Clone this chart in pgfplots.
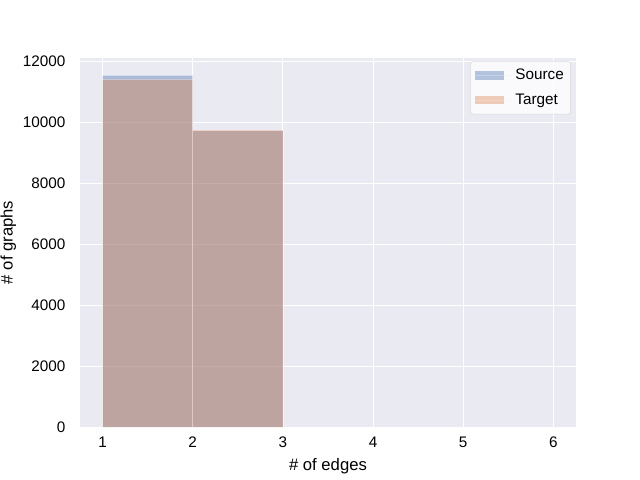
\documentclass[border=0pt]{standalone}
\usepackage{pgfplots}
\pgfplotsset{compat=1.18}
\usepackage{fontspec}
\setmainfont{Liberation Sans}
\definecolor{bgc}{RGB}{234,234,242}
\definecolor{sblue}{RGB}{76,114,176}
\definecolor{sorange}{RGB}{221,132,82}
\begin{document}
\begin{tikzpicture}[x=1pt,y=1pt]
\path[use as bounding box] (0,0) rectangle (460.8,345.6);
\begin{axis}[
  at={(57.6pt,38.0pt)}, anchor=south west,
  scale only axis, width=357.1pt, height=266.1pt,
  xmin=0.75, xmax=6.25, ymin=0, ymax=12118,
  axis background/.style={fill=bgc},
  axis line style={draw=none},
  major tick length=0pt,
  grid=major, grid style={white, line width=0.8pt},
  xtick={1,2,3,4,5,6}, ytick={0,2000,4000,6000,8000,10000,12000},
  /pgf/number format/assume math mode=true,
  /pgf/number format/set thousands separator={},
  scaled y ticks=false,
  tick label style={font=\fontsize{11}{13}\selectfont},
  xticklabel style={yshift=-3.5pt},
  yticklabel style={xshift=-7pt},
  label style={font=\fontsize{12}{14}\selectfont},
  xlabel={\# of edges}, ylabel={\# of graphs},
  xlabel style={yshift=-1pt},
  ylabel style={yshift=-2pt},
  legend style={at={(0.99,0.99)}, anchor=north east, draw=black!15, rounded corners=2pt, fill=white, fill opacity=0.8, text opacity=1, font=\fontsize{11}{13}\selectfont, row sep=4.5pt, inner xsep=3pt, inner ysep=3.5pt},
  legend cell align=left,
  legend image code/.code={\path[#1, draw=none, rounded corners=0pt, fill opacity=0.4] (0pt,-3pt) rectangle (21pt,3pt); \path (0pt,0pt) -- (27pt,0pt);},
]
\addplot[ybar interval, fill=sblue, fill opacity=0.4, draw=white, draw opacity=0.3, line width=0.4pt] coordinates {(1,11540) (2,9720) (3,0)};
\addlegendentry{Source}
\addplot[ybar interval, fill=sorange, fill opacity=0.4, draw=white, draw opacity=0.3, line width=0.4pt] coordinates {(1,11400) (2,9745) (3,0)};
\addlegendentry{Target}
\end{axis}
\end{tikzpicture}
\end{document}
